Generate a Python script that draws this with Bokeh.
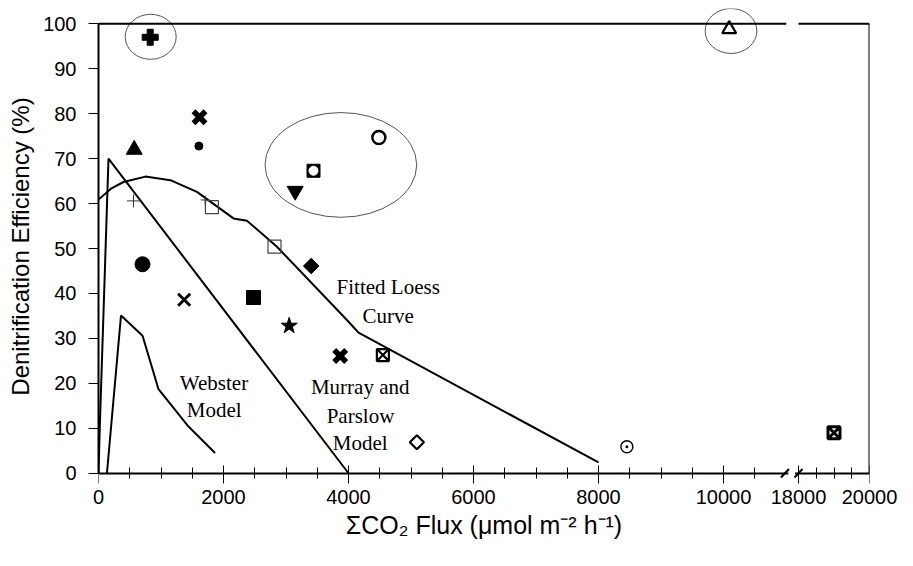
import numpy as np
from bokeh.plotting import figure
from bokeh.models import FixedTicker, Range1d, Arrow, LinearAxis
from bokeh.core.properties import value
from bokeh.embed import file_html
from bokeh.resources import INLINE

# ---------------- data ----------------
site_flux = [827, 1616, 1606, 571, 560, 1814, 1707, 2816, 3403, 704, 1371, 2480,
             3051, 3867, 4550, 5094, 8454, 19000, 10091, 4486, 3440, 3147]
site_eff = [97.0, 79.2, 72.8, 72.0, 60.6, 59.2, 60.8, 50.4, 46.1, 46.5, 38.6, 39.1,
            32.8, 26.1, 26.3, 6.9, 5.9, 9.0, 98.8, 74.7, 67.3, 62.8]
site_symbol = ["greek_cross", "bold_x", "dot", "tri_fill", "thin_plus", "open_square",
               "small_plus", "open_square", "diamond_fill", "circle_fill", "x",
               "square_fill", "star", "bold_x", "square_x", "open_diamond", "circle_dot",
               "hourglass", "open_triangle", "open_circle", "square_circle", "tri_down"]

loess_flux = [0, 200, 400, 750, 1150, 1575, 2160, 2375, 2855, 3975, 4160, 8000]
loess_eff = [60.9, 63.3, 64.8, 66.0, 65.2, 62.6, 56.7, 56.2, 50.4, 34.1, 31.3, 2.4]

murray_flux = [0, 20, 160, 4000]
murray_eff = [0, 10, 70, 0]

webster_flux = [135, 360, 705, 960, 1440, 1865]
webster_eff = [0, 35.1, 30.6, 18.7, 10.4, 4.5]

ring_flux = [835, 10120, 3878]
ring_eff = [97.1, 98.4, 68.6]
ring_w = [816, 827, 2427]
ring_h = [10.0, 10.0, 23.3]

x_tick_vals = [0, 2000, 4000, 6000, 8000, 10000, 18000, 20000]
x_minor_vals = [500, 1000, 1500, 2500, 3000, 3500, 4500, 5000, 5500, 6500, 7000, 7500,
                8500, 9000, 9500, 10500, 18500, 19000, 19500]
y_tick_vals = [0, 10, 20, 30, 40, 50, 60, 70, 80, 90, 100]

model_labels = ["Fitted Loess", "Curve", "Webster", "Model", "Murray and", "Parslow", "Model"]
model_label_flux = [4635, 4635, 1848, 1851, 4187, 4192, 4187]
model_label_eff = [41.5, 35.0, 20.0, 14.1, 19.3, 12.8, 6.7]

# ---------------- broken x axis ----------------
BREAK_LO = 10500
BREAK_HI = 18000
GAP_U = 700
RIGHT_SCALE = 0.568
X_MAX = 20000


def xu(x):
    x = np.asarray(x, dtype=float)
    return np.where(x <= BREAK_LO, x, BREAK_LO + GAP_U + (x - BREAK_HI) * RIGHT_SCALE)


u_max = float(xu([X_MAX])[0])
u_hi = float(xu([BREAK_HI])[0])

Y_LO, Y_HI = -2.5, 103.4
PX_PER_UNIT = 465 / 103.4
p = figure(frame_width=771, frame_height=int(round((Y_HI - Y_LO) * PX_PER_UNIT)),
           output_backend="svg", toolbar_location=None,
           x_range=Range1d(0, u_max), y_range=Range1d(Y_LO, Y_HI),
           min_border_left=98, min_border_right=40, min_border_top=8, min_border_bottom=0)
p.outline_line_color = None
p.xgrid.grid_line_color = None
p.ygrid.grid_line_color = None
p.background_fill_color = "white"

# model curves
p.line(xu(webster_flux), webster_eff, line_color="black", line_width=2)
p.line(xu(murray_flux), murray_eff, line_color="black", line_width=2)
p.line(xu(loess_flux), loess_eff, line_color="black", line_width=2)

# ellipses
p.ellipse(xu(ring_flux), ring_eff, width=ring_w, height=ring_h, fill_color=None,
          line_color="#555555", line_width=1)

# point styles
Q = np.pi / 4
STYLES = {
    "greek_cross": [dict(marker="plus", size=16, fill_color="black", line_color="black", line_width=1)],
    "bold_x": [dict(marker="x", size=17, line_color="black", line_width=5.5)],
    "dot": [dict(marker="circle", size=8, fill_color="black", line_color="black", line_width=1)],
    "tri_fill": [dict(marker="triangle", size=16, fill_color="black", line_color="black", line_width=1)],
    "thin_plus": [dict(marker="cross", size=13, line_color="#333333", line_width=1)],
    "small_plus": [dict(marker="cross", size=9, line_color="#333333", line_width=1)],
    "open_square": [dict(marker="square", size=13, fill_color=None, line_color="#444444", line_width=1.2)],
    "diamond_fill": [dict(marker="square", size=11, angle=Q, fill_color="black", line_color="black", line_width=1)],
    "circle_fill": [dict(marker="circle", size=15, fill_color="black", line_color="black", line_width=1)],
    "x": [dict(marker="x", size=17, line_color="black", line_width=3)],
    "square_fill": [dict(marker="square", size=14, fill_color="black", line_color="black", line_width=1)],
    "star": [dict(marker="star", size=17, fill_color="black", line_color="black", line_width=1)],
    "square_x": [dict(marker="square_x", size=12, fill_color=None, line_color="black", line_width=2.2)],
    "open_diamond": [dict(marker="square", size=10, angle=Q, fill_color="white", line_color="black", line_width=2.2)],
    "circle_dot": [dict(marker="circle_dot", size=12, fill_color="white", line_color="black", line_width=1.4)],
    "hourglass": [dict(marker="square_x", size=12, fill_color="white", line_color="black", line_width=3)],
    "open_triangle": [dict(marker="triangle", size=14, fill_color="white", line_color="black", line_width=2.2)],
    "open_circle": [dict(marker="circle", size=13, fill_color="white", line_color="black", line_width=2.5)],
    "square_circle": [dict(marker="square", size=13, fill_color="black", line_color="black", line_width=1),
                      dict(marker="circle", size=9, fill_color="white", line_color="white", line_width=1)],
    "tri_down": [dict(marker="inverted_triangle", size=16, fill_color="black", line_color="black", line_width=1)],
}

sym_arr = np.array(site_symbol)
fx = xu(site_flux)
fy = np.array(site_eff)
for sym, layers in STYLES.items():
    idx = np.where(sym_arr == sym)[0]
    if len(idx) == 0:
        continue
    for lay in layers:
        p.scatter(fx[idx], fy[idx], **lay)

# model labels
p.text(xu(model_label_flux), model_label_eff, text=model_labels,
       text_font=value("Liberation Serif"), text_font_size="21px",
       text_align="center", text_baseline="middle", text_color="black")

# frame: top (with gap at break) and right
top_gap_lo = BREAK_LO + 0.72 * GAP_U
for xa, xb in [(0, top_gap_lo), (u_hi, u_max)]:
    p.add_layout(Arrow(end=None, x_start=xa, y_start=100, x_end=xb, y_end=100,
                       line_color="black", line_width=2))
p.add_layout(Arrow(end=None, x_start=u_max, y_start=0, x_end=u_max, y_end=100,
                   line_color="black", line_width=2))

# axis break marks
slash_pos = [BREAK_LO + 0.69 * GAP_U, u_hi]
p.add_layout(Arrow(end=None, x_start=slash_pos[0] + 55, y_start=0, x_end=slash_pos[1] - 55, y_end=0,
                   line_color="white", line_width=4))
for sx in slash_pos:
    p.add_layout(Arrow(end=None, x_start=sx - 64, y_start=-0.95, x_end=sx + 64, y_end=0.95,
                       line_color="black", line_width=2))

tick_u = [int(round(v)) for v in xu(x_tick_vals)]
minor_u = [float(v) for v in xu(x_minor_vals)]

# x axis (labels + title) sitting at the frame bottom
xl = p.xaxis[0]
xl.ticker = FixedTicker(ticks=tick_u, minor_ticks=minor_u)
xl.major_label_overrides = {u: str(v) for u, v in zip(tick_u, x_tick_vals)}
xl.axis_label = "ΣCO₂ Flux (μmol m⁻² h⁻¹)"
xl.axis_line_color = None
xl.major_tick_line_color = None
xl.minor_tick_line_color = None
xl.major_tick_in = 0
xl.major_tick_out = 0
xl.minor_tick_in = 0
xl.minor_tick_out = 0
xl.major_label_standoff = 5
xl.axis_label_standoff = 4

# x axis line and ticks placed at y = 0 (no labels of its own)
xt = LinearAxis(fixed_location=0, ticker=FixedTicker(ticks=tick_u, minor_ticks=minor_u))
xt.major_label_overrides = {u: "" for u in tick_u}
xt.major_label_standoff = 0
xt.major_tick_in = 8
xt.major_tick_out = 10
xt.minor_tick_in = 6
xt.minor_tick_out = 5
xt.axis_line_width = 2
xt.axis_line_color = "black"
xt.major_tick_line_color = "black"
xt.minor_tick_line_color = "black"
xt.major_tick_line_width = 1
xt.minor_tick_line_width = 1
p.add_layout(xt, "below")

yl = p.yaxis[0]
yl.ticker = FixedTicker(ticks=y_tick_vals, minor_ticks=[])
yl.bounds = (0, 100)
yl.axis_label = "Denitrification Efficiency (%)"
yl.major_tick_in = 0
yl.major_tick_out = 10
yl.minor_tick_line_color = None
yl.major_label_standoff = 12
yl.axis_label_standoff = 6
yl.axis_line_width = 2
yl.axis_line_color = "black"
yl.major_tick_line_color = "black"
yl.major_tick_line_width = 1

for ax in (xl, yl):
    ax.major_label_text_font = "Liberation Sans"
    ax.major_label_text_font_size = "20px"
    ax.major_label_text_color = "black"
    ax.axis_label_text_font = "Liberation Sans"
    ax.axis_label_text_font_style = "normal"
    ax.axis_label_text_color = "black"

xl.axis_label_text_font_size = "25px"
yl.axis_label_text_font_size = "24px"

open("out.html", "w").write(file_html(p, INLINE))
